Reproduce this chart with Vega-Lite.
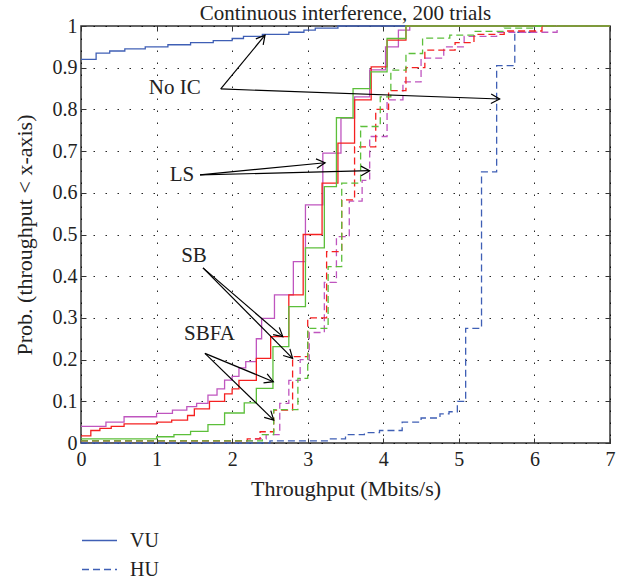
{
  "$schema": "https://vega.github.io/schema/vega-lite/v6.json",
  "width": 529,
  "height": 417,
  "autosize": {"type": "none"},
  "padding": {"left": 81, "top": 26, "right": 19, "bottom": 136},
  "background": "white",
  "config": {
    "font": "Liberation Serif",
    "view": {"stroke": "#333", "strokeWidth": 1.5},
    "axis": {"labelFont": "Liberation Serif", "titleFont": "Liberation Serif", "labelColor": "#222", "titleColor": "#222", "titleFontWeight": "normal"}
  },
  "title": {"text": "Continuous interference, 200 trials", "fontSize": 21, "fontWeight": "normal", "color": "#222", "anchor": "middle", "baseline": "bottom", "offset": -29, "font": "Liberation Serif"},
  "datasets": {
    "cdf": [
      {"m":"No IC","u":"VU","x":0,"p":0.92},{"m":"No IC","u":"VU","x":0.2,"p":0.935},{"m":"No IC","u":"VU","x":0.38,"p":0.94},{"m":"No IC","u":"VU","x":0.58,"p":0.945},{"m":"No IC","u":"VU","x":0.85,"p":0.95},{"m":"No IC","u":"VU","x":1.15,"p":0.955},{"m":"No IC","u":"VU","x":1.45,"p":0.96},{"m":"No IC","u":"VU","x":1.75,"p":0.965},{"m":"No IC","u":"VU","x":2.0,"p":0.97},{"m":"No IC","u":"VU","x":2.15,"p":0.975},{"m":"No IC","u":"VU","x":2.4,"p":0.98},{"m":"No IC","u":"VU","x":2.75,"p":0.985},{"m":"No IC","u":"VU","x":2.95,"p":0.99},{"m":"No IC","u":"VU","x":3.1,"p":0.995},{"m":"No IC","u":"VU","x":3.4,"p":1},{"m":"No IC","u":"VU","x":7,"p":1},
      {"m":"No IC","u":"HU","x":0,"p":0},{"m":"No IC","u":"HU","x":2.5,"p":0.005},{"m":"No IC","u":"HU","x":3.3,"p":0.01},{"m":"No IC","u":"HU","x":3.5,"p":0.02},{"m":"No IC","u":"HU","x":3.75,"p":0.025},{"m":"No IC","u":"HU","x":3.95,"p":0.03},{"m":"No IC","u":"HU","x":4.25,"p":0.05},{"m":"No IC","u":"HU","x":4.5,"p":0.06},{"m":"No IC","u":"HU","x":4.75,"p":0.07},{"m":"No IC","u":"HU","x":4.87,"p":0.075},{"m":"No IC","u":"HU","x":4.98,"p":0.1},{"m":"No IC","u":"HU","x":5.09,"p":0.275},{"m":"No IC","u":"HU","x":5.3,"p":0.65},{"m":"No IC","u":"HU","x":5.5,"p":0.905},{"m":"No IC","u":"HU","x":5.74,"p":0.985},{"m":"No IC","u":"HU","x":6.0,"p":1},{"m":"No IC","u":"HU","x":7,"p":1},
      {"m":"LS","u":"VU","x":0,"p":0.04},{"m":"LS","u":"VU","x":0.33,"p":0.05},{"m":"LS","u":"VU","x":0.57,"p":0.063},{"m":"LS","u":"VU","x":1.0,"p":0.071},{"m":"LS","u":"VU","x":1.21,"p":0.079},{"m":"LS","u":"VU","x":1.4,"p":0.087},{"m":"LS","u":"VU","x":1.53,"p":0.095},{"m":"LS","u":"VU","x":1.68,"p":0.115},{"m":"LS","u":"VU","x":1.8,"p":0.13},{"m":"LS","u":"VU","x":1.9,"p":0.151},{"m":"LS","u":"VU","x":2.0,"p":0.16},{"m":"LS","u":"VU","x":2.09,"p":0.18},{"m":"LS","u":"VU","x":2.18,"p":0.195},{"m":"LS","u":"VU","x":2.32,"p":0.25},{"m":"LS","u":"VU","x":2.39,"p":0.299},{"m":"LS","u":"VU","x":2.56,"p":0.355},{"m":"LS","u":"VU","x":2.81,"p":0.435},{"m":"LS","u":"VU","x":2.97,"p":0.571},{"m":"LS","u":"VU","x":3.2,"p":0.695},{"m":"LS","u":"VU","x":3.44,"p":0.779},{"m":"LS","u":"VU","x":3.62,"p":0.83},{"m":"LS","u":"VU","x":3.82,"p":0.895},{"m":"LS","u":"VU","x":4.03,"p":0.95},{"m":"LS","u":"VU","x":4.2,"p":0.99},{"m":"LS","u":"VU","x":4.35,"p":1},{"m":"LS","u":"VU","x":7,"p":1},
      {"m":"SB","u":"VU","x":0,"p":0.017},{"m":"SB","u":"VU","x":0.13,"p":0.03},{"m":"SB","u":"VU","x":0.25,"p":0.035},{"m":"SB","u":"VU","x":0.4,"p":0.04},{"m":"SB","u":"VU","x":0.57,"p":0.046},{"m":"SB","u":"VU","x":1.0,"p":0.05},{"m":"SB","u":"VU","x":1.2,"p":0.055},{"m":"SB","u":"VU","x":1.41,"p":0.066},{"m":"SB","u":"VU","x":1.5,"p":0.082},{"m":"SB","u":"VU","x":1.7,"p":0.1},{"m":"SB","u":"VU","x":1.9,"p":0.118},{"m":"SB","u":"VU","x":2.0,"p":0.13},{"m":"SB","u":"VU","x":2.09,"p":0.15},{"m":"SB","u":"VU","x":2.32,"p":0.203},{"m":"SB","u":"VU","x":2.51,"p":0.255},{"m":"SB","u":"VU","x":2.75,"p":0.355},{"m":"SB","u":"VU","x":2.94,"p":0.5},{"m":"SB","u":"VU","x":3.19,"p":0.623},{"m":"SB","u":"VU","x":3.4,"p":0.719},{"m":"SB","u":"VU","x":3.62,"p":0.823},{"m":"SB","u":"VU","x":3.84,"p":0.902},{"m":"SB","u":"VU","x":4.05,"p":0.966},{"m":"SB","u":"VU","x":4.3,"p":1},{"m":"SB","u":"VU","x":7,"p":1},
      {"m":"SBFA","u":"VU","x":0,"p":0.01},{"m":"SBFA","u":"VU","x":1.0,"p":0.015},{"m":"SBFA","u":"VU","x":1.23,"p":0.02},{"m":"SBFA","u":"VU","x":1.45,"p":0.028},{"m":"SBFA","u":"VU","x":1.68,"p":0.044},{"m":"SBFA","u":"VU","x":1.9,"p":0.072},{"m":"SBFA","u":"VU","x":2.16,"p":0.096},{"m":"SBFA","u":"VU","x":2.32,"p":0.131},{"m":"SBFA","u":"VU","x":2.54,"p":0.231},{"m":"SBFA","u":"VU","x":2.75,"p":0.327},{"m":"SBFA","u":"VU","x":2.97,"p":0.468},{"m":"SBFA","u":"VU","x":3.22,"p":0.615},{"m":"SBFA","u":"VU","x":3.38,"p":0.78},{"m":"SBFA","u":"VU","x":3.6,"p":0.85},{"m":"SBFA","u":"VU","x":3.83,"p":0.89},{"m":"SBFA","u":"VU","x":4.05,"p":0.97},{"m":"SBFA","u":"VU","x":4.3,"p":1},{"m":"SBFA","u":"VU","x":7,"p":1},
      {"m":"LS","u":"HU","x":0,"p":0.005},{"m":"LS","u":"HU","x":2.3,"p":0.01},{"m":"LS","u":"HU","x":2.45,"p":0.02},{"m":"LS","u":"HU","x":2.63,"p":0.095},{"m":"LS","u":"HU","x":2.75,"p":0.15},{"m":"LS","u":"HU","x":2.9,"p":0.2},{"m":"LS","u":"HU","x":3.02,"p":0.265},{"m":"LS","u":"HU","x":3.22,"p":0.385},{"m":"LS","u":"HU","x":3.38,"p":0.495},{"m":"LS","u":"HU","x":3.55,"p":0.58},{"m":"LS","u":"HU","x":3.72,"p":0.63},{"m":"LS","u":"HU","x":3.82,"p":0.735},{"m":"LS","u":"HU","x":4.05,"p":0.823},{"m":"LS","u":"HU","x":4.26,"p":0.866},{"m":"LS","u":"HU","x":4.5,"p":0.923},{"m":"LS","u":"HU","x":4.8,"p":0.95},{"m":"LS","u":"HU","x":5.07,"p":0.975},{"m":"LS","u":"HU","x":5.5,"p":0.985},{"m":"LS","u":"HU","x":6.3,"p":1},{"m":"LS","u":"HU","x":7,"p":1},
      {"m":"SB","u":"HU","x":0,"p":0.005},{"m":"SB","u":"HU","x":2.2,"p":0.01},{"m":"SB","u":"HU","x":2.37,"p":0.027},{"m":"SB","u":"HU","x":2.55,"p":0.079},{"m":"SB","u":"HU","x":2.8,"p":0.207},{"m":"SB","u":"HU","x":3.0,"p":0.3},{"m":"SB","u":"HU","x":3.25,"p":0.459},{"m":"SB","u":"HU","x":3.45,"p":0.583},{"m":"SB","u":"HU","x":3.62,"p":0.71},{"m":"SB","u":"HU","x":3.9,"p":0.8},{"m":"SB","u":"HU","x":4.07,"p":0.845},{"m":"SB","u":"HU","x":4.3,"p":0.9},{"m":"SB","u":"HU","x":4.55,"p":0.942},{"m":"SB","u":"HU","x":4.95,"p":0.96},{"m":"SB","u":"HU","x":5.2,"p":0.98},{"m":"SB","u":"HU","x":5.6,"p":0.988},{"m":"SB","u":"HU","x":6.1,"p":1},{"m":"SB","u":"HU","x":7,"p":1},
      {"m":"SBFA","u":"HU","x":0,"p":0.005},{"m":"SBFA","u":"HU","x":2.4,"p":0.02},{"m":"SBFA","u":"HU","x":2.55,"p":0.08},{"m":"SBFA","u":"HU","x":2.87,"p":0.155},{"m":"SBFA","u":"HU","x":3.0,"p":0.275},{"m":"SBFA","u":"HU","x":3.27,"p":0.423},{"m":"SBFA","u":"HU","x":3.45,"p":0.623},{"m":"SBFA","u":"HU","x":3.7,"p":0.759},{"m":"SBFA","u":"HU","x":3.96,"p":0.83},{"m":"SBFA","u":"HU","x":4.1,"p":0.894},{"m":"SBFA","u":"HU","x":4.3,"p":0.934},{"m":"SBFA","u":"HU","x":4.52,"p":0.971},{"m":"SBFA","u":"HU","x":4.88,"p":0.978},{"m":"SBFA","u":"HU","x":5.2,"p":0.987},{"m":"SBFA","u":"HU","x":5.6,"p":0.995},{"m":"SBFA","u":"HU","x":6.0,"p":1},{"m":"SBFA","u":"HU","x":7,"p":1}
    ],
    "arrows": [
      {"x":1.849,"y":0.849,"xe":2.435,"ye":0.978},
      {"x":1.849,"y":0.849,"xe":5.54,"ye":0.825},
      {"x":1.575,"y":0.643,"xe":3.23,"ye":0.672},
      {"x":1.575,"y":0.643,"xe":3.82,"ye":0.653},
      {"x":1.614,"y":0.42,"xe":2.67,"ye":0.255},
      {"x":1.614,"y":0.42,"xe":2.8,"ye":0.203},
      {"x":1.64,"y":0.215,"xe":2.545,"ye":0.147},
      {"x":1.64,"y":0.215,"xe":2.55,"ye":0.055}
    ],
    "labels": [
      {"t":"No IC","x":1.24,"y":0.851},
      {"t":"LS","x":1.335,"y":0.643},
      {"t":"SB","x":1.495,"y":0.448},
      {"t":"SBFA","x":1.70,"y":0.262}
    ]
  },
  "layer": [
    {
      "data": {"name": "cdf"},
      "mark": {"type": "line", "interpolate": "step-after", "strokeWidth": 1.3},
      "encoding": {
        "x": {"field": "x", "type": "quantitative", "scale": {"domain": [0, 7], "nice": false},
          "axis": {"values": [0,1,2,3,4,5,6,7], "title": "Throughput (Mbits/s)", "titleFontSize": 22, "titlePadding": 9, "labelFontSize": 20, "labelPadding": 11, "tickSize": -5, "tickColor": "#333", "domain": false, "grid": true, "gridDash": [1.5, 10.5], "gridColor": "black", "gridOpacity": 0.85, "labelFlush": false, "labelOverlap": false}},
        "y": {"field": "p", "type": "quantitative", "scale": {"domain": [0, 1], "nice": false},
          "axis": {"values": [0,0.1,0.2,0.3,0.4,0.5,0.6,0.7,0.8,0.9,1], "format": "~g", "title": "Prob. (throughput < x-axis)", "titleFontSize": 22, "titlePadding": 16, "labelFontSize": 20, "labelPadding": 9, "tickSize": -5, "tickColor": "#333", "domain": false, "grid": true, "gridDash": [1.5, 10.5], "gridColor": "black", "gridOpacity": 0.85, "labelFlush": false, "labelOverlap": false}},
        "color": {"field": "m", "type": "nominal", "scale": {"domain": ["No IC", "LS", "SB", "SBFA"], "range": ["#3f5fb5", "#bf55bf", "#f52020", "#5cbf3a"]}, "legend": null},
        "strokeDash": {"field": "u", "type": "nominal", "scale": {"domain": ["VU", "HU"], "range": [[1, 0], [7, 4]]},
          "legend": {"title": null, "orient": "none", "legendX": 0, "legendY": 496, "symbolType": "stroke", "symbolStrokeColor": "#3f5fb5", "symbolStrokeWidth": 1.3, "symbolSize": 1225, "labelFontSize": 20, "labelFont": "Liberation Serif", "labelColor": "#222", "labelOffset": 12, "rowPadding": -7}}
      }
    },
    {
      "data": {"name": "arrows"},
      "mark": {"type": "rule", "color": "black", "strokeWidth": 1.2},
      "encoding": {
        "x": {"field": "x", "type": "quantitative", "axis": null},
        "y": {"field": "y", "type": "quantitative", "axis": null},
        "x2": {"field": "xe"},
        "y2": {"field": "ye"}
      }
    },
    {
      "data": {"name": "arrows"},
      "transform": [{"calculate": "atan2(-(datum.ye - datum.y) * 417, (datum.xe - datum.x) * 75.57) * 180 / PI", "as": "ang"}],
      "mark": {"type": "point", "shape": "M -1 -0.55 L 0 0 L -1 0.55", "filled": false, "color": "black", "strokeWidth": 1.2, "size": 300, "opacity": 1},
      "encoding": {
        "x": {"field": "xe", "type": "quantitative", "axis": null},
        "y": {"field": "ye", "type": "quantitative", "axis": null},
        "angle": {"field": "ang", "type": "quantitative", "scale": null}
      }
    },
    {
      "data": {"name": "labels"},
      "mark": {"type": "text", "fontSize": 21, "font": "Liberation Serif", "color": "#222", "align": "center", "baseline": "middle"},
      "encoding": {
        "x": {"field": "x", "type": "quantitative", "axis": null},
        "y": {"field": "y", "type": "quantitative", "axis": null},
        "text": {"field": "t"}
      }
    },
    {
      "data": {"name": "labels"},
      "mark": {"type": "point", "opacity": 0},
      "encoding": {
        "x": {"field": "x", "type": "quantitative", "axis": {"orient": "top", "values": [0,1,2,3,4,5,6,7], "labels": false, "title": null, "grid": false, "domain": false, "tickSize": -5, "tickColor": "#333"}},
        "y": {"field": "y", "type": "quantitative", "axis": {"orient": "right", "values": [0,0.1,0.2,0.3,0.4,0.5,0.6,0.7,0.8,0.9,1], "labels": false, "title": null, "grid": false, "domain": false, "tickSize": -5, "tickColor": "#333"}}
      }
    }
  ],
  "resolve": {"axis": {"x": "independent", "y": "independent"}}
}
